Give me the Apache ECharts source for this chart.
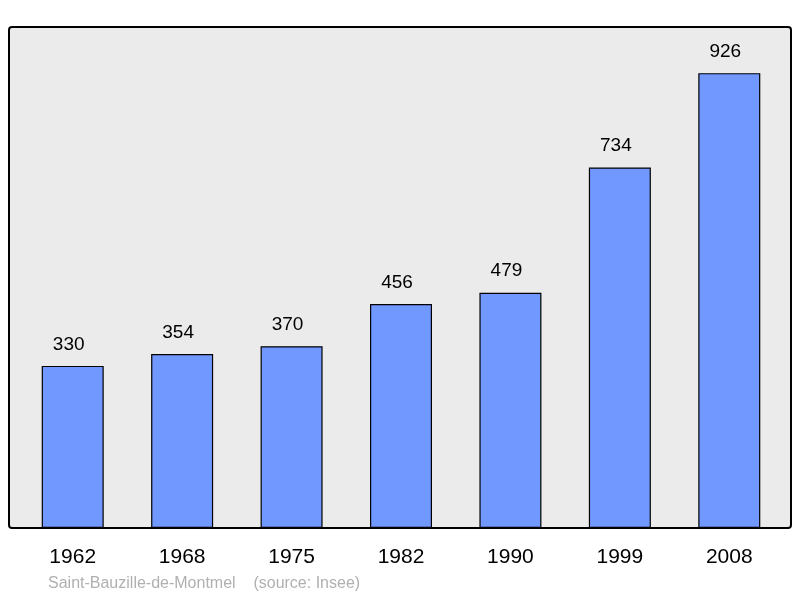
<!DOCTYPE html>
<html><head><meta charset="utf-8">
<script src="https://cdn.jsdelivr.net/npm/echarts@6/dist/echarts.min.js"></script>
<style>html,body{margin:0;padding:0;background:#fff}#c{width:800px;height:598px}</style>
</head><body><div id="c"></div>
<script>
const years = ['1962','1968','1975','1982','1990','1999','2008'];
const population = [330,354,370,456,479,734,926];
const caption = 'Saint-Bauzille-de-Montmel    (source: Insee)';
const chart = echarts.init(document.getElementById('c'));
chart.setOption({
  animation:false,
  graphic:[
    {type:'rect',z:-10,shape:{x:9,y:27,width:782,height:501,r:3},style:{fill:'#ebebeb',stroke:'#000',lineWidth:2}},
    {type:'text',left:48,top:576,style:{text:caption,fill:'#b0b0b0',font:'16px "Liberation Sans", Arial, sans-serif'}}
  ],
  grid:{left:18,right:16,top:27,bottom:70},
  xAxis:{type:'category',data:years,axisLine:{show:false},axisTick:{show:false},
    axisLabel:{margin:19,fontSize:21,color:'#000',fontFamily:'Liberation Sans'}},
  yAxis:{type:'value',min:0,max:1020,show:false,splitLine:{show:false}},
  series:[{type:'bar',data:population,barWidth:62,
    itemStyle:{color:'#7098ff',borderColor:'#000',borderWidth:1.2},
    label:{show:true,position:'top',distance:12,offset:[-4,0],fontSize:19,color:'#000',fontFamily:'Liberation Sans'}}]
});
</script></body></html>
